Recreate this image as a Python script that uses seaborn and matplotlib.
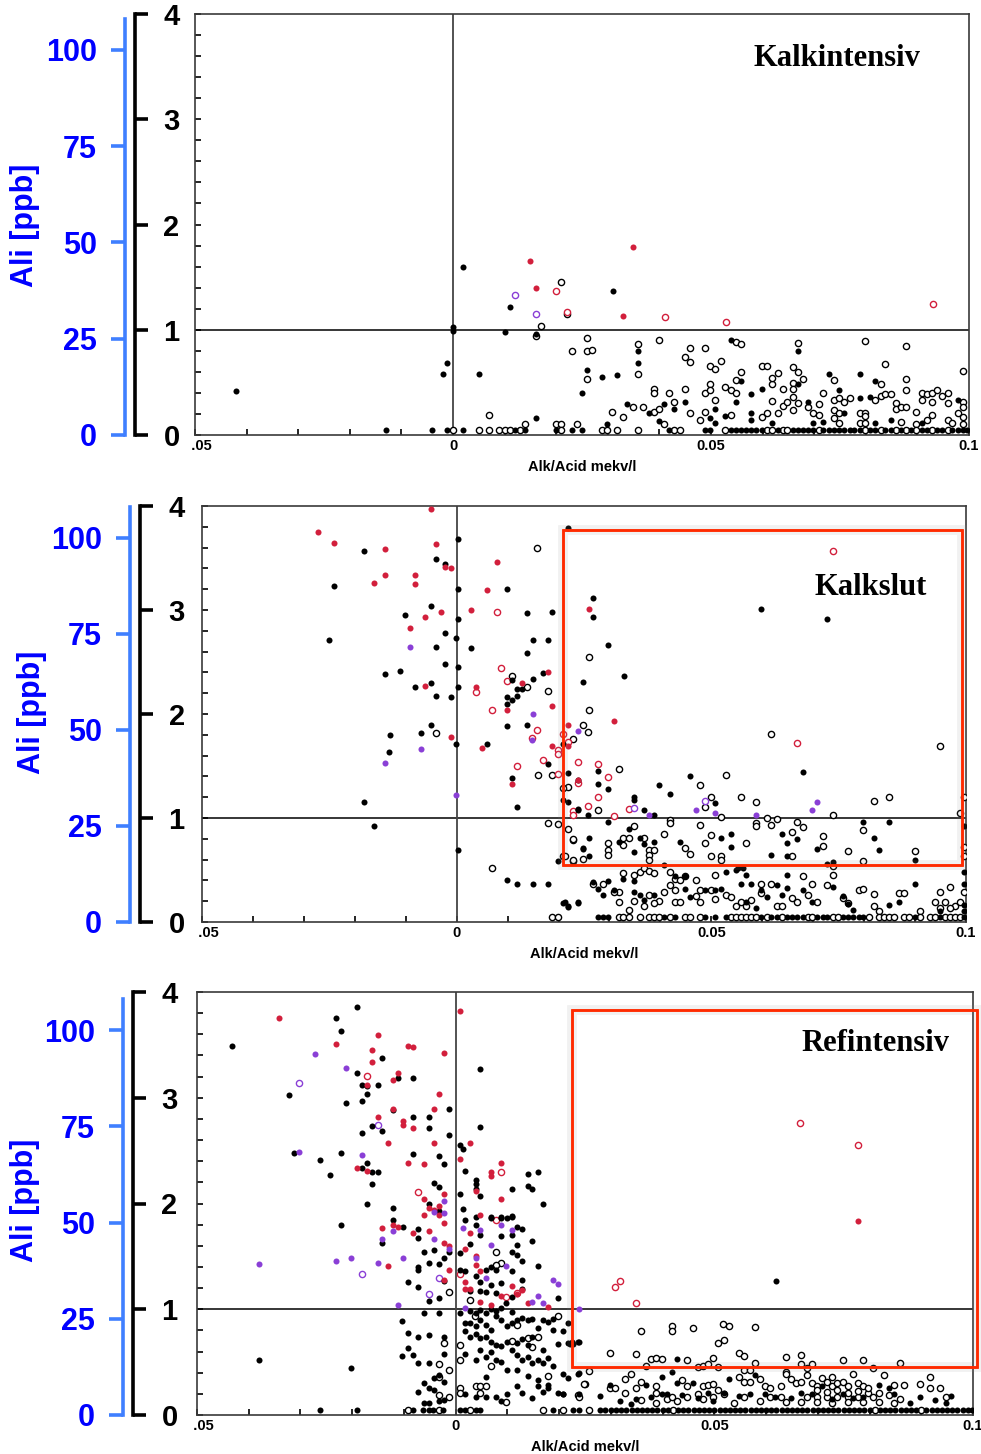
import numpy as np
import matplotlib
matplotlib.use("Agg")
import matplotlib.pyplot as plt
import seaborn as sns
from matplotlib import patheffects as pe
from matplotlib.patches import Rectangle
from matplotlib.transforms import Bbox, TransformedBbox

# ---------------------------------------------------------------- data
x_ticks = [-0.05, 0, 0.05, 0.1]
x_tick_labels = ["-0.05", "0", "0.05", "0.1"]
y_ticks = [0, 1, 2, 3, 4]
ppb_ticks = [0, 25, 50, 75, 100]
titles = ["Kalkintensiv", "Kalkslut", "Refintensiv"]
x_label = "Alk/Acid mekv/l"
y_label = "Ali [ppb]"

# ---- Panel 1 : Kalkintensiv  (x, y) pairs
p1_black = [(-0.042,0.42),(0.002,1.60),(0.0,1.03),(0.0,0.99),(-0.0012,0.68),(-0.002,0.58),(0.005,0.58),
    (0.011,1.22),(0.010,0.98),(0.016,0.96),(0.016,0.16),(0.026,0.62),(0.025,0.40),(0.031,1.37),(0.0289,0.55),
    (0.0318,0.57),(0.0338,0.29),(0.0359,0.80),(0.0359,0.68),(0.0379,0.21),(0.0409,0.29),(0.0399,0.13),(0.0429,0.25),
    (0.0449,0.31),(0.0499,0.16),(0.0508,0.25),(0.0508,0.11),(0.0528,0.18),(0.0539,0.90),(0.0548,0.31),(0.0559,0.51),
    (0.0578,0.39),(0.0578,0.21),(0.0578,0.14),(0.0598,0.44),(0.0618,0.11),(0.0668,0.80),(0.0668,0.48),(0.0688,0.31),
    (0.0729,0.58),(0.0749,0.43),(0.0758,0.21),(0.0789,0.58),(0.0789,0.35),(0.0809,0.36),(0.0818,0.51),(0.0978,0.33),
    (0.0908,0.11),(0.0849,0.14),(0.0818,0.11),(0.0698,0.11),(0.0718,0.12),(0.0299,0.10)]
p1_open = [(0.007,0.19),(0.021,1.45),(0.022,1.15),(0.017,1.04),(0.016,0.94),(0.023,0.80),(0.026,0.92),(0.026,0.80),
    (0.026,0.53),(0.014,0.10),(0.020,0.10),(0.021,0.10),(0.024,0.10),(0.027,0.81),(0.0309,0.22),(0.0329,0.17),
    (0.0348,0.27),(0.0359,0.86),(0.0359,0.58),(0.0369,0.27),(0.0389,0.22),(0.0389,0.44),(0.0389,0.40),(0.0399,0.25),
    (0.0399,0.90),(0.0409,0.10),(0.0418,0.40),(0.0429,0.31),(0.0449,0.44),(0.0459,0.21),(0.0449,0.74),(0.0459,0.83),
    (0.0459,0.69),(0.0479,0.14),(0.0489,0.83),(0.0489,0.40),(0.0489,0.22),(0.0499,0.66),(0.0499,0.48),(0.0499,0.43),
    (0.0508,0.63),(0.0508,0.33),(0.0519,0.70),(0.0528,0.46),(0.0539,0.43),(0.0539,0.19),(0.0548,0.88),(0.0559,0.86),
    (0.0548,0.52),(0.0548,0.40),(0.0559,0.60),(0.0598,0.66),(0.0608,0.66),(0.0598,0.17),(0.0608,0.21),(0.0618,0.48),
    (0.0618,0.54),(0.0618,0.32),(0.0629,0.59),(0.0639,0.44),(0.0629,0.21),(0.0639,0.28),(0.0648,0.31),(0.0658,0.65),
    (0.0658,0.49),(0.0658,0.44),(0.0658,0.36),(0.0658,0.24),(0.0668,0.87),(0.0668,0.60),(0.0668,0.30),(0.0679,0.53),
    (0.0688,0.27),(0.0698,0.21),(0.0709,0.29),(0.0709,0.19),(0.0718,0.40),(0.0738,0.52),(0.0738,0.33),(0.0749,0.35),
    (0.0738,0.24),(0.0738,0.16),(0.0749,0.21),(0.0749,0.11),(0.0758,0.31),(0.0769,0.35),(0.0789,0.21),(0.0789,0.11),
    (0.0798,0.89),(0.0798,0.21),(0.0798,0.18),(0.0818,0.33),(0.0829,0.48),(0.0829,0.37),(0.0838,0.67),(0.0838,0.39),
    (0.0849,0.39),(0.0858,0.30),(0.0858,0.25),(0.0868,0.27),(0.0878,0.85),(0.0878,0.53),(0.0878,0.43),(0.0878,0.27),
    (0.0898,0.22),(0.0908,0.40),(0.0908,0.33),(0.0918,0.39),(0.0929,0.40),(0.0929,0.31),(0.0938,0.43),(0.0948,0.37),
    (0.0959,0.40),(0.0959,0.30),(0.0988,0.31),(0.0988,0.27),(0.0988,0.61),(0.0978,0.21),(0.0988,0.17),(0.0929,0.19),
    (0.0918,0.14),(0.0959,0.14),(0.0968,0.11),(0.0988,0.10),(0.0898,0.10),(0.0868,0.12),(0.0798,0.11)]
p1_red = [(0.015,1.65),(0.016,1.40),(0.0349,1.79),(0.033,1.13)]
p1_red_open = [(0.020,1.37),(0.022,1.17),(0.041,1.12),(0.053,1.07),(0.093,1.24)]
p1_purple = []
p1_purple_open = [(0.012,1.33),(0.016,1.15)]
p1_floor = 0.045
p1_floor_black = [-0.013,-0.004,-0.0012,0.002,0.012,0.014,0.020,0.023,0.025,0.0418,0.0489,0.0499,0.0539,0.0548,
    0.0559,0.0568,0.0578,0.0588,0.0598,0.0629,0.0658,0.0668,0.0679,0.0688,0.0698,0.0718,0.0729,0.0738,0.0749,
    0.0758,0.0769,0.0778,0.0789,0.0809,0.0818,0.0838,0.0849,0.0868,0.0888,0.0908,0.0918,0.0938,0.0948,0.0968,
    0.0978,0.0988,0.0997]
p1_floor_open = [0.0,0.005,0.007,0.009,0.010,0.011,0.013,0.021,0.0289,0.0299,0.0318,0.0359,0.0429,0.0439,0.0528,
    0.0608,0.0618,0.0639,0.0648,0.0709,0.0798,0.0829,0.0858,0.0878,0.0898,0.0929,0.0959]

# ---- Panel 2 : Kalkslut
p2_black = [(-0.0182,3.57),(-0.0241,3.23),(-0.0251,2.71),(-0.0041,3.49),(-0.0022,3.44),(0.0003,3.68),(0.0003,3.20),
    (-0.0051,3.04),(-0.0101,2.95),(0.0003,2.91),(-0.0022,2.78),(-0.0002,2.73),(-0.0041,2.64),(0.0028,2.63),
    (-0.0022,2.48),(0.0003,2.45),(-0.0141,2.38),(-0.0111,2.41),(-0.0081,2.26),(-0.0051,2.30),(-0.0041,2.17),
    (-0.0012,2.16),(0.0003,2.26),(0.0099,3.20),(0.0139,2.97),(0.0188,2.98),(0.0149,2.71),(0.0179,2.71),(0.0139,2.59),
    (0.0169,2.39),(0.0149,2.34),(0.0109,2.33),(0.0118,2.24),(0.0128,2.24),(0.0099,2.16),(0.0109,2.13),(0.0099,2.10),
    (0.0118,2.17),(0.0219,3.79),(0.0249,2.31),(-0.0051,1.89),(0.0099,1.88),(0.0139,1.89),(0.0268,3.12),(0.0268,2.93),
    (0.0298,2.66),(0.0329,2.37),(0.0598,3.01),(0.0728,2.91),(0.0209,1.71),(0.0219,1.43),(0.0209,1.17),(0.0219,1.15),
    (0.0239,1.09),(0.0258,1.03),(0.0278,1.45),(0.0278,1.33),(0.0109,1.38),(0.0118,1.11),(0.0179,1.52),(0.0059,1.71),
    (-0.0002,1.71),(-0.0131,1.80),(-0.0132,1.63),(-0.0071,1.82),(-0.0182,1.15),(-0.0162,0.92),(0.0003,0.69),
    (0.0238,1.08),(0.0099,0.40),(0.0118,0.37),(0.0149,0.37),(0.0179,0.37),(0.0209,0.18),(0.0219,0.14),(0.0238,0.18),
    (0.0199,0.59),(0.0249,0.70),(0.0259,0.81),(0.0238,1.37),(0.0298,1.28),(0.0348,1.20),(0.0348,1.17),(0.0368,1.08),
    (0.0388,1.03),(0.0398,1.32),(0.0419,1.23),(0.0458,1.40),(0.0508,1.14),(0.0679,1.44),(0.0298,0.96),(0.0338,0.89),
    (0.0249,0.71),(0.0259,0.63),(0.0318,0.77),(0.0348,0.67),(0.0359,0.81),(0.0368,0.75),(0.0388,0.77),(0.0408,0.55),
    (0.0438,0.77),(0.0518,0.81),(0.0538,0.85),(0.0538,0.72),(0.0618,0.64),(0.0639,0.85),(0.0649,0.76),(0.0649,0.63),
    (0.0668,0.80),(0.0708,0.70),(0.0728,0.56),(0.0738,0.58),(0.0798,0.96),(0.0819,0.81),(0.0829,0.69),(0.0849,0.96),
    (0.0899,0.60),(0.0997,0.92),
    (0.0268,0.38),(0.0278,0.32),(0.0288,0.26),(0.0298,0.39),(0.0308,0.31),(0.0327,0.41),(0.0348,0.39),(0.0348,0.29),
    (0.0359,0.26),(0.0368,0.21),(0.0388,0.26),(0.0429,0.44),(0.0448,0.44),(0.0448,0.32),(0.0458,0.24),(0.0488,0.31),
    (0.0508,0.31),(0.0518,0.32),(0.0528,0.48),(0.0549,0.50),(0.0558,0.37),(0.0568,0.45),(0.0568,0.19),(0.0578,0.37),
    (0.0588,0.13),(0.0598,0.31),(0.0609,0.24),(0.0628,0.36),(0.0649,0.45),(0.0649,0.33),(0.0639,0.26),(0.0679,0.31),
    (0.0698,0.19),(0.0738,0.34),(0.0759,0.25),(0.0768,0.17),(0.0779,0.12),(0.0849,0.16),(0.0869,0.19),(0.0899,0.37),
    (0.0949,0.11),(0.0997,0.16),(0.0997,0.11),(0.0997,0.37),(0.0997,0.48),(0.0213,0.19),(0.0239,0.19),(0.0219,0.15),
    (0.0562,0.52),(0.0553,0.52)]
p2_open = [(0.0158,3.60),(0.0109,2.37),(0.0139,2.26),(0.0179,2.22),(0.0259,2.55),(0.0259,2.04),(0.0249,1.89),
    (0.0229,1.76),(0.0258,1.83),(0.0219,1.30),(0.0209,1.29),(0.0278,1.08),(0.0179,0.95),(0.0199,0.94),(0.0219,0.89),
    (0.0159,1.41),(0.0188,1.41),(-0.0041,1.82),(0.0228,0.79),(0.0069,0.52),(0.0209,0.63),(0.0228,0.59),(0.0249,0.61),
    (0.0213,0.63),(0.0229,0.60),(0.0229,0.80),(0.0298,0.76),(0.0298,0.69),(0.0298,0.64),(0.0327,0.81),(0.0338,0.81),
    (0.0327,0.74),(0.0348,0.92),(0.0368,0.81),(0.0378,0.69),(0.0378,0.64),(0.0378,0.60),(0.0388,0.69),(0.0408,0.85),
    (0.0419,0.98),(0.0419,0.95),(0.0448,0.71),(0.0458,0.65),(0.0478,0.93),(0.0488,0.76),(0.0499,0.84),(0.0499,0.63),
    (0.0518,0.63),(0.0518,0.60),(0.0568,0.76),(0.0588,0.95),(0.0588,0.92),(0.0609,1.00),(0.0618,0.93),(0.0628,0.99),
    (0.0658,0.63),(0.0658,0.87),(0.0668,0.96),(0.0679,0.91),(0.0719,0.73),(0.0719,0.83),(0.0738,1.03),(0.0738,0.54),
    (0.0768,0.68),(0.0798,0.88),(0.0819,1.16),(0.0849,1.20),(0.0798,0.59),(0.0899,0.68),(0.0949,1.69),(0.0988,1.05),
    (0.0997,1.20),(0.0997,0.72),(0.0997,0.63),(0.0618,1.81),(0.0478,1.32),(0.0528,1.41),(0.0558,1.20),(0.0588,1.15),
    (0.0499,1.20),(0.0488,1.11),(0.0518,1.01),(0.0318,1.47),
    (0.0327,0.47),(0.0348,0.45),(0.0359,0.48),(0.0368,0.52),(0.0378,0.49),(0.0388,0.47),(0.0419,0.48),(0.0429,0.41),
    (0.0438,0.40),(0.0448,0.44),(0.0469,0.40),(0.0508,0.45),(0.0499,0.31),(0.0478,0.31),(0.0469,0.25),(0.0419,0.36),
    (0.0429,0.31),(0.0408,0.29),(0.0398,0.20),(0.0388,0.18),(0.0378,0.26),(0.0368,0.15),(0.0348,0.20),(0.0318,0.29),
    (0.0308,0.29),(0.0318,0.19),(0.0288,0.37),(0.0268,0.37),(0.0338,0.12),(0.0429,0.19),(0.0438,0.19),(0.0478,0.19),
    (0.0508,0.22),(0.0528,0.26),(0.0538,0.24),(0.0549,0.15),(0.0558,0.19),(0.0568,0.15),(0.0578,0.21),(0.0598,0.28),
    (0.0598,0.37),(0.0618,0.37),(0.0628,0.15),(0.0639,0.15),(0.0658,0.23),(0.0668,0.19),(0.0679,0.44),(0.0689,0.26),
    (0.0698,0.37),(0.0708,0.19),(0.0728,0.36),(0.0738,0.45),(0.0759,0.23),(0.0768,0.18),(0.0789,0.31),(0.0798,0.32),
    (0.0819,0.27),(0.0819,0.15),(0.0829,0.11),(0.0869,0.28),(0.0879,0.28),(0.0909,0.11),(0.0949,0.29),(0.0939,0.19),
    (0.0959,0.19),(0.0969,0.34),(0.0979,0.15),(0.0988,0.19),(0.0997,0.29),(0.0949,0.13),(0.0969,0.13)]
p2_red = [(-0.0272,3.75),(-0.0241,3.64),(-0.0141,3.59),(-0.0051,3.97),(-0.0041,3.63),(-0.0022,3.41),(-0.0012,3.40),
    (-0.0141,3.34),(-0.0162,3.26),(-0.0081,3.34),(-0.0081,3.25),(0.0079,3.46),(0.0059,3.19),(0.0028,3.00),
    (-0.0062,2.93),(-0.0031,2.98),(-0.0092,2.83),(-0.0062,2.27),(0.0179,2.40),(0.0038,2.26),(0.0099,2.04),
    (0.0128,2.30),(0.0188,2.08),(0.0219,1.89),(0.0259,3.01),(0.0308,1.93),(0.0219,1.69),(0.0239,1.37),(-0.0012,1.78),
    (0.0049,1.67),(0.0109,1.33),(0.0188,1.69)]
p2_red_open = [(0.0079,2.98),(0.0088,2.44),(0.0098,2.32),(0.0038,2.21),(0.0069,2.04),(0.0158,1.85),(0.0738,3.57),
    (0.0209,1.81),(0.0219,1.73),(0.0238,1.54),(0.0238,1.34),(0.0258,1.12),(0.0278,1.52),(0.0278,1.20),(0.0229,1.07),
    (0.0148,1.77),(0.0118,1.50),(0.0169,1.56),(0.0199,1.65),(0.0199,1.62),(0.0199,1.42),(0.0228,1.03),(0.0298,1.39),
    (0.0308,1.02),(0.0338,1.09),(0.0668,1.72)]
p2_purple = [(-0.0092,2.64),(0.0149,2.00),(0.0238,1.84),(0.0148,1.75),(-0.0002,1.22),(-0.0071,1.66),(-0.0141,1.53),
    (0.0378,1.03),(0.0469,1.08),(0.0508,1.05),(0.0588,1.03),(0.0698,1.08),(0.0708,1.15)]
p2_purple_open = [(0.0348,1.10),(0.0488,1.16)]
p2_floor = 0.05
p2_floor_black = [0.0278,0.0288,0.0298,0.0408,0.0429,0.0488,0.0508,0.0528,0.0598,0.0618,0.0628,0.0649,0.0658,
    0.0668,0.0679,0.0708,0.0719,0.0728,0.0759,0.0768,0.0779,0.0789,0.0798,0.0899,0.0949,0.0997]
p2_floor_open = [0.0188,0.0199,0.0318,0.0327,0.0338,0.0359,0.0378,0.0388,0.0398,0.0419,0.0448,0.0458,0.0478,
    0.0538,0.0549,0.0558,0.0568,0.0578,0.0588,0.0609,0.0639,0.0689,0.0698,0.0738,0.0749,0.0809,0.0829,0.0839,
    0.0849,0.0859,0.0879,0.0889,0.0909,0.0929,0.0939,0.0959,0.0969,0.0979,0.0988]

# ---- Panel 3 : Refintensiv
p3_black = [(-0.0432,3.49),(-0.0232,3.75),(-0.0222,3.63),(-0.0191,3.86),(-0.0322,3.03),(-0.0212,2.95),
    (-0.0191,3.23),(-0.0182,3.12),(-0.0171,3.04),(-0.0182,2.97),(-0.0171,3.11),(-0.0151,3.12),(-0.0142,3.38),
    (-0.0111,3.19),(-0.0082,3.19),(-0.0122,2.88),(-0.0162,2.73),(-0.0182,2.67),(-0.0142,2.69),(-0.0082,2.82),
    (-0.0052,2.82),(-0.0052,2.71),(-0.0012,2.89),(-0.0012,2.65),(-0.0312,2.48),(-0.0222,2.48),(-0.0262,2.41),
    (-0.0242,2.27),(-0.0171,2.38),(-0.0182,2.34),(-0.0162,2.30),(-0.0151,2.30),(-0.0162,2.18),(-0.0082,2.47),
    (-0.0032,2.45),(-0.0022,2.37),(-0.0171,2.00),(-0.0122,1.96),(-0.0042,2.19),(-0.0032,2.16),(-0.0052,2.00),
    (-0.0032,1.93),(0.0008,2.55),(0.0014,2.52),(0.0018,2.31),(0.0039,2.22),(0.0039,2.18),(0.0039,2.14),(0.0048,3.27),
    (0.0048,2.72),(0.0048,2.07),(0.0008,2.09),(0.0014,1.95),(0.0108,2.14),(0.0139,2.28),(0.0159,2.30),(0.0139,2.17),
    (0.0148,2.14),(0.0168,2.00),(0.0039,1.87),(0.0068,1.86),(0.0088,1.86),(0.0099,1.86),(0.0108,1.87),
    (-0.0222,1.80),(-0.0142,1.63),(-0.0122,1.84),(-0.0102,1.78),(-0.0072,1.76),(-0.0072,1.67),(-0.0062,1.54),
    (-0.0042,1.56),(-0.0052,1.44),(-0.0072,1.40),(-0.0072,1.37),(-0.0032,1.43),(-0.0022,1.48),(-0.0012,1.54),
    (-0.0092,1.26),(-0.0072,1.21),(-0.0052,1.08),(-0.0032,1.11),(-0.0022,1.27),(0.0008,1.53),(0.0028,1.62),
    (0.0048,1.70),(0.0039,1.80),(0.0068,1.87),(0.0088,1.87),(0.0108,1.88),(0.0018,1.84),(0.0108,1.70),(0.0088,1.69),
    (0.0119,1.78),(0.0128,1.76),(0.0148,1.65),(0.0119,1.61),(0.0108,1.54),(0.0119,1.51),(0.0128,1.46),(0.0159,1.41),
    (0.0108,1.36),(0.0128,1.28),(0.0008,1.37),(0.0018,1.36),(0.0039,1.31),(0.0059,1.37),(0.0068,1.40),(0.0078,1.37),
    (0.0048,1.26),(0.0068,1.23),(0.0088,1.25),(0.0028,1.17),(0.0048,1.17),(0.0059,1.16),(0.0078,1.15),(0.0108,1.12),
    (0.0128,1.19),(0.0198,1.11),(0.0068,1.00),(0.0088,1.01),(0.0098,1.06),
    (0.0028,0.98),(0.0039,0.96),(0.0048,0.99),(0.0059,0.96),(0.0078,0.98),(0.0108,0.97),(0.0128,0.92),(0.0148,0.91),
    (0.0168,0.90),(0.0189,0.91),(0.0218,0.87),(-0.0103,0.89),(-0.0092,0.78),(-0.0072,0.74),(-0.0052,0.76),
    (-0.0022,0.74),(-0.0062,0.96),(-0.0032,0.96),(0.0008,0.96),(0.0019,0.87),(0.0028,0.87),(0.0039,0.84),(0.0048,0.90),
    (0.0059,0.85),(0.0068,0.80),(0.0078,0.94),(0.0088,0.90),(0.0099,0.84),(0.0108,0.87),(0.0119,0.90),(0.0139,0.90),
    (0.0159,0.82),(0.0178,0.88),(0.0189,0.80),(0.0198,0.67),(0.0224,0.69),(0.0237,0.69),(0.0218,0.68),(0.0019,0.79),
    (0.0028,0.74),(0.0039,0.77),(0.0048,0.73),(0.0059,0.74),(0.0068,0.69),(0.0078,0.66),(0.0088,0.65),(0.0099,0.69),
    (0.0119,0.68),(0.0128,0.72),(0.0139,0.66),(0.0148,0.74),(0.0168,0.61),(0.0019,0.58),(0.0039,0.52),(0.0048,0.61),
    (0.0059,0.55),(0.0068,0.60),(0.0078,0.52),(0.0088,0.50),(0.0108,0.61),(0.0119,0.57),(0.0128,0.52),(0.0139,0.55),
    (0.0148,0.49),(0.0159,0.52),(0.0168,0.49),(0.0178,0.54),(0.0189,0.46),(0.0208,0.39),(0.0218,0.35),(-0.0092,0.63),
    (-0.0103,0.56),(-0.0082,0.57),(-0.0072,0.49),(-0.0052,0.49),(-0.0022,0.58),(-0.0062,0.30),(-0.0052,0.26),
    (-0.0042,0.35),(-0.0032,0.38),(-0.0022,0.31),(-0.0072,0.22),(-0.0062,0.11),(-0.0052,0.11),(-0.0032,0.13),
    (-0.0022,0.14),(-0.0042,0.24),(0.0019,0.20),(0.0039,0.17),(0.0059,0.17),(0.0078,0.17),(0.0088,0.13),(0.0099,0.20),
    (0.0119,0.27),(0.0128,0.21),(0.0148,0.16),(0.0159,0.27),(0.0168,0.22),(0.0178,0.26),(0.0198,0.21),(0.0208,0.20),
    (0.0059,0.36),(0.0099,0.43),(0.0119,0.43),(0.0139,0.37),(0.0159,0.33),(0.0178,0.28),(0.0237,0.39),(-0.0381,0.52),
    (-0.0202,0.44),(0.0619,1.27),(0.0238,0.69),(0.0208,0.79),(0.0221,0.67),(0.0227,0.67),(0.0428,0.53),(0.0238,0.40),
    (0.0238,0.20),(0.0208,0.20),(0.0279,0.18),(0.0298,0.28),(0.0338,0.10),(0.0368,0.28),(0.0378,0.17),(0.0398,0.36),
    (0.0418,0.41),(0.0428,0.30),(0.0438,0.19),(0.0458,0.30),(0.0468,0.16),(0.0488,0.21),(0.0498,0.13),(0.0518,0.21),
    (0.0528,0.34),(0.0548,0.18),(0.0568,0.20),(0.0578,0.38),(0.0598,0.20),(0.0618,0.17),(0.0648,0.16),(0.0668,0.21),
    (0.0688,0.20),(0.0708,0.27),(0.0728,0.15),(0.0748,0.20),(0.0768,0.16),(0.0788,0.17),(0.0818,0.28),(0.0838,0.26),
    (0.0847,0.20),(0.0878,0.11),(0.0898,0.17),(0.0927,0.14),(0.0947,0.11),(0.0957,0.18),(0.0318,0.13),(0.0349,0.15),
    (0.0398,0.20),(0.0408,0.20)]
p3_open = [(-0.0012,1.16),(0.0078,1.54),(0.0088,1.44),(0.0078,1.42),(0.0028,1.09),(0.0038,0.94),(0.0198,0.94),
    (-0.0022,0.68),(0.0008,0.66),(0.0008,0.52),(-0.0012,0.43),(-0.0032,0.48),(-0.0032,0.36),(0.0068,0.46),
    (0.0108,0.70),(0.0148,0.64),(0.0159,0.74),(0.0119,0.85),(0.0139,0.73),(0.0178,0.37),(0.0008,0.26),(0.0008,0.21),
    (0.0039,0.27),(0.0048,0.27),(0.0059,0.27),(0.0048,0.21),(-0.0032,0.19),(-0.0012,0.17),(0.0098,0.12),(0.0250,0.29),
    (0.0237,0.19),(0.0258,0.42),(0.0248,0.29),(0.0238,0.17),
    (0.0358,0.79),(0.0419,0.84),(0.0419,0.79),(0.0458,0.82),(0.0517,0.86),(0.0528,0.84),(0.0578,0.83),(0.0508,0.68),
    (0.0518,0.71),(0.0298,0.59),(0.0349,0.58),(0.0368,0.46),(0.0378,0.53),(0.0388,0.54),(0.0398,0.53),(0.0448,0.52),
    (0.0498,0.54),(0.0468,0.45),(0.0479,0.46),(0.0488,0.48),(0.0508,0.45),(0.0548,0.59),(0.0558,0.56),(0.0578,0.49),
    (0.0558,0.43),(0.0568,0.43),(0.0639,0.55),(0.0668,0.57),(0.0668,0.48),(0.0688,0.48),(0.0679,0.44),(0.0748,0.52),
    (0.0788,0.52),(0.0807,0.44),(0.0858,0.49),
    (0.0298,0.26),(0.0308,0.26),(0.0328,0.34),(0.0338,0.39),(0.0358,0.31),(0.0349,0.26),(0.0328,0.21),(0.0358,0.14),
    (0.0388,0.27),(0.0388,0.21),(0.0388,0.11),(0.0408,0.15),(0.0438,0.33),(0.0448,0.27),(0.0468,0.20),(0.0479,0.27),
    (0.0488,0.28),(0.0498,0.29),(0.0508,0.24),(0.0518,0.20),(0.0538,0.11),(0.0548,0.36),(0.0558,0.31),(0.0568,0.31),
    (0.0588,0.34),(0.0598,0.27),(0.0608,0.26),(0.0628,0.27),(0.0638,0.41),(0.0638,0.39),(0.0648,0.34),(0.0658,0.30),
    (0.0668,0.31),(0.0679,0.38),(0.0688,0.30),(0.0698,0.27),(0.0708,0.35),(0.0718,0.31),(0.0728,0.36),(0.0728,0.27),
    (0.0738,0.30),(0.0748,0.31),(0.0758,0.27),(0.0768,0.39),(0.0778,0.30),(0.0788,0.27),(0.0798,0.21),(0.0827,0.38),
    (0.0847,0.28),(0.0867,0.28),(0.0898,0.29),(0.0917,0.36),(0.0917,0.26),(0.0937,0.26),(0.0947,0.17),(0.0679,0.17),
    (0.0698,0.17),(0.0718,0.17),(0.0738,0.17),(0.0758,0.17),(0.0778,0.17),(0.0807,0.17),(0.0858,0.15),(0.0608,0.17),
    (0.0628,0.17),(0.0588,0.13),(0.0558,0.17),(0.0498,0.17),(0.0479,0.15),(0.0448,0.17),(0.0428,0.13),(0.0419,0.17),
    (0.0698,0.24),(0.0718,0.22),(0.0738,0.24),(0.0758,0.21),(0.0778,0.23),(0.0798,0.26),(0.0818,0.21),(0.0838,0.19),
    (0.0698,0.12),(0.0728,0.11),(0.0758,0.12),(0.0788,0.12),(0.0818,0.12),(0.0848,0.11),(0.0668,0.12),(0.0638,0.12)]
p3_red = [(-0.0341,3.75),(-0.0232,3.51),(-0.0151,3.59),(-0.0162,3.45),(-0.0162,3.34),(-0.0092,3.49),(-0.0082,3.48),
    (-0.0022,3.42),(0.0008,3.82),(-0.0111,3.23),(-0.0122,3.17),(-0.0171,3.12),(-0.0032,3.04),(-0.0042,2.89),
    (-0.0122,2.89),(-0.0151,2.82),(-0.0102,2.78),(-0.0102,2.74),(-0.0082,2.71),(-0.0131,2.57),(-0.0042,2.57),
    (-0.0092,2.38),(-0.0062,2.37),(-0.0191,2.34),(-0.0171,2.31),(0.0008,2.42),(0.0028,2.57),(0.0068,2.30),
    (0.0068,2.26),(0.0088,2.38),(0.0039,2.12),(0.0088,2.04),(-0.0062,2.04),(-0.0052,1.96),(-0.0032,1.98),
    (-0.0022,2.09),(-0.0042,1.94),(-0.0062,1.89),(-0.0032,1.89),(-0.0142,1.77),(-0.0122,1.80),(-0.0111,1.78),
    (-0.0082,1.72),(-0.0052,1.74),(-0.0022,1.82),(-0.0022,1.63),(-0.0012,1.60),(-0.0131,1.41),(-0.0022,1.28),
    (-0.0012,1.37),(0.0018,1.57),(0.0039,1.50),(0.0039,1.42),(0.0048,1.89),(0.0028,1.72),(0.0019,1.26),(0.0019,1.19),
    (0.0048,1.36),(0.0048,1.07),(0.0068,1.04),(0.0088,1.13),(0.0108,1.22),(0.0119,1.14),(0.0128,1.18),(0.0139,1.06),
    (0.0178,1.02),(0.0028,1.19),(0.0778,1.83)]
p3_red_open = [(-0.0171,3.21),(-0.0072,2.11),(0.0088,2.30),(0.0078,1.84),(0.0008,1.33),(0.0119,1.15),(0.0098,1.12),
    (0.0308,1.21),(0.0318,1.27),(0.0349,1.06),(0.0666,2.76),(0.0778,2.55)]
p3_purple = [(-0.0272,3.41),(-0.0212,3.28),(-0.0302,2.49),(-0.0182,2.46),(-0.0022,2.02),(-0.0022,1.91),
    (-0.0042,1.92),(-0.0381,1.43),(-0.0232,1.46),(-0.0202,1.48),(-0.0151,1.44),(-0.0142,1.66),(-0.0122,1.74),
    (-0.0102,1.48),(-0.0111,1.04),(-0.0042,1.66),(-0.0012,1.57),(0.0014,1.77),(0.0048,1.75),(0.0068,1.61),
    (0.0088,1.80),(0.0108,1.75),(0.0039,1.48),(0.0059,1.30),(0.0098,1.41),(0.0018,1.01),(0.0159,1.13),(0.0148,1.07),
    (0.0168,1.06),(0.0189,1.28),(0.0198,1.24),(0.0238,1.00)]
p3_purple_open = [(-0.0302,3.14),(-0.0151,2.74),(-0.0182,1.33),(-0.0052,1.14),(-0.0032,1.30)]
p3_floor = 0.05
p3_floor_black = [-0.0262,-0.0191,-0.0082,-0.0063,-0.0052,-0.0043,-0.0024,0.0008,0.0018,0.0039,0.0048,0.0189,
    0.0227,0.0239,0.0279,0.0288,0.030,0.031,0.032,0.033,0.034,0.035,0.036,0.037,0.038,0.039,0.040,0.041,0.043,
    0.044,0.045,0.046,0.047,0.048,0.049,0.050,0.051,0.052,0.053,0.054,0.055,0.056,0.057,0.058,0.059,0.060,0.061,
    0.062,0.063,0.064,0.065,0.066,0.067,0.068,0.069,0.070,0.071,0.072,0.073,0.074,0.075,0.076,0.077,0.078,0.079,
    0.080,0.082,0.083,0.084,0.085,0.086,0.087,0.088,0.089,0.091,0.092,0.093,0.094,0.095,0.096,0.097,0.098,0.099,
    0.0998]
p3_floor_open = [-0.0092,-0.0032,0.0028,0.0169,0.0208,0.0258,0.042,0.081,0.090]

# highlighted regions (x0, y0, x1, y1) in data units
p2_box = (0.0208, 0.55, 0.0992, 3.77)
p3_box = (0.0225, 0.45, 0.1008, 3.83)

# ---------------------------------------------------------------- styling
W, H = 981, 1454
BLACK = "#000000"
RED = "#d21f3c"
PURPLE = "#8a3fd6"
BLUE_TXT = "#0000ff"
BLUE_AX = "#3f7fff"
RECT = "#ff2a00"

plt.rcParams["font.family"] = ["Liberation Sans", "DejaVu Sans"]
fig = plt.figure(figsize=(W / 100, H / 100), dpi=100)
fig.patch.set_facecolor("white")

panels = [
    dict(box=(195, 14, 969, 435), blk=135, blu=125, ppb_top=109.3, title=titles[0], tpos=(0.0744, 3.58),
         black=p1_black, open=p1_open, red=p1_red, red_open=p1_red_open, purple=p1_purple,
         purple_open=p1_purple_open, floor=p1_floor, fb=p1_floor_black, fo=p1_floor_open, rect=None, ylab=(25, 225)),
    dict(box=(202, 506, 966, 922), blk=140, blu=130, ppb_top=108.3, title=titles[1], tpos=(0.0812, 3.22),
         black=p2_black, open=p2_open, red=p2_red, red_open=p2_red_open, purple=p2_purple,
         purple_open=p2_purple_open, floor=p2_floor, fb=p2_floor_black, fo=p2_floor_open, rect=p2_box, ylab=(32, 712)),
    dict(box=(197, 992, 973, 1415), blk=133, blu=123, ppb_top=109.9, title=titles[2], tpos=(0.0812, 3.51),
         black=p3_black, open=p3_open, red=p3_red, red_open=p3_red_open, purple=p3_purple,
         purple_open=p3_purple_open, floor=p3_floor, fb=p3_floor_black, fo=p3_floor_open, rect=p3_box, ylab=(25, 1200)),
]

S_FILL, S_OPEN, LW_OPEN = 19, 20, 1.0


def xy(pairs):
    if not pairs:
        return np.array([]), np.array([])
    a = np.array(pairs, dtype=float)
    return a[:, 0], a[:, 1]


def dots(ax, x, y, col):
    if len(x):
        sns.scatterplot(x=x, y=y, ax=ax, color=col, edgecolor=col, linewidth=0, s=S_FILL,
                        legend=False, zorder=4)


def rings(ax, x, y, col):
    if len(x):
        sns.scatterplot(x=x, y=y, ax=ax, facecolor="white", edgecolor=col, linewidth=LW_OPEN,
                        s=S_OPEN, legend=False, zorder=3)


for P in panels:
    l, t, r, b = P["box"]
    ax = fig.add_axes([l / W, 1 - b / H, (r - l) / W, (b - t) / H])
    ax.set_xlim(-0.05, 0.1)
    ax.set_ylim(0, 4)
    for s in ax.spines.values():
        s.set_color("#3a3a3a")
        s.set_linewidth(1.2)
    ax.axhline(1, color="black", lw=1.1, zorder=2)
    ax.axvline(0, color="#444444", lw=1.3, zorder=2)

    # open markers first, filled on top
    rings(ax, *xy(P["open"]), BLACK)
    rings(ax, np.array(P["fo"]), np.full(len(P["fo"]), P["floor"]), BLACK)
    rings(ax, *xy(P["red_open"]), RED)
    rings(ax, *xy(P["purple_open"]), PURPLE)
    dots(ax, *xy(P["black"]), BLACK)
    dots(ax, np.array(P["fb"]), np.full(len(P["fb"]), P["floor"]), BLACK)
    dots(ax, *xy(P["red"]), RED)
    dots(ax, *xy(P["purple"]), PURPLE)

    ax.set_xticks(x_ticks)
    ax.set_xticks(np.round(np.arange(-0.05, 0.1001, 0.01), 3), minor=True)
    ax.set_yticks(np.round(np.arange(0, 4.01, 0.2), 2))
    ax.set_xticklabels(x_tick_labels, fontsize=10.5, fontweight="bold")
    ax.set_yticklabels([])
    ax.tick_params(axis="x", which="both", direction="in", length=4, width=1.2, top=False, pad=3)
    ax.tick_params(axis="y", which="both", direction="in", length=4, width=1.2, right=False, left=True)
    ax.set_xlabel(x_label, fontsize=10.5, fontweight="bold", labelpad=5)
    ax.set_ylabel("")
    # first tick label is clipped at the axes' left edge, as in the source graphic
    lab0 = ax.get_xticklabels()[0]
    lab0.set_clip_box(TransformedBbox(Bbox([[(l - 3) / W, 0], [1, 1]]), fig.transFigure))
    lab0.set_clip_on(True)

    ax.text(*P["tpos"], P["title"], ha="center", va="center", fontsize=22, fontweight="bold",
            family=["Liberation Serif", "DejaVu Serif"], zorder=6)

    if P["rect"] is not None:
        x0, y0, x1, y1 = P["rect"]
        rect = Rectangle((x0, y0), x1 - x0, y1 - y0, fill=False, edgecolor=RECT, lw=1.8, clip_on=False,
                         zorder=5, path_effects=[pe.withStroke(linewidth=7, foreground="0.55", alpha=0.12),
                                                 pe.Normal()])
        ax.add_patch(rect)

    # black secondary scale (0-4), labels to the right of its spine
    xb = P["blk"]
    axb = fig.add_axes([xb / W, 1 - b / H, 16 / W, (b - t) / H])
    axb.set_ylim(0, 4)
    axb.patch.set_visible(False)
    for k in ("top", "right", "bottom"):
        axb.spines[k].set_visible(False)
    axb.spines["left"].set_linewidth(2.6)
    axb.spines["left"].set_color("black")
    axb.set_xticks([])
    axb.set_yticks(y_ticks)
    axb.set_yticklabels([str(v) for v in y_ticks], fontsize=21, fontweight="bold")
    axb.tick_params(axis="y", direction="in", length=9, width=2.6, left=True, right=False,
                    labelleft=False, labelright=True, pad=9)

    # blue ppb scale
    xu = P["blu"]
    axu = fig.add_axes([xu / W, 1 - b / H, 10 / W, (b - t) / H])
    axu.set_ylim(0, P["ppb_top"])
    axu.patch.set_visible(False)
    for k in ("top", "right", "bottom"):
        axu.spines[k].set_visible(False)
    axu.spines["left"].set_linewidth(2.6)
    axu.spines["left"].set_color(BLUE_AX)
    axu.spines["left"].set_bounds(0, 108)
    axu.set_xticks([])
    axu.set_yticks(ppb_ticks)
    axu.set_yticklabels([str(v) for v in ppb_ticks], fontsize=22, fontweight="bold", color=BLUE_TXT)
    axu.tick_params(axis="y", direction="out", length=10, width=2.6, color=BLUE_AX, pad=10)

    fig.text(P["ylab"][0] / W, 1 - P["ylab"][1] / H, y_label, rotation=90, ha="center", va="center",
             fontsize=22, fontweight="bold", color=BLUE_TXT)

fig.savefig("out.png", dpi=100)
